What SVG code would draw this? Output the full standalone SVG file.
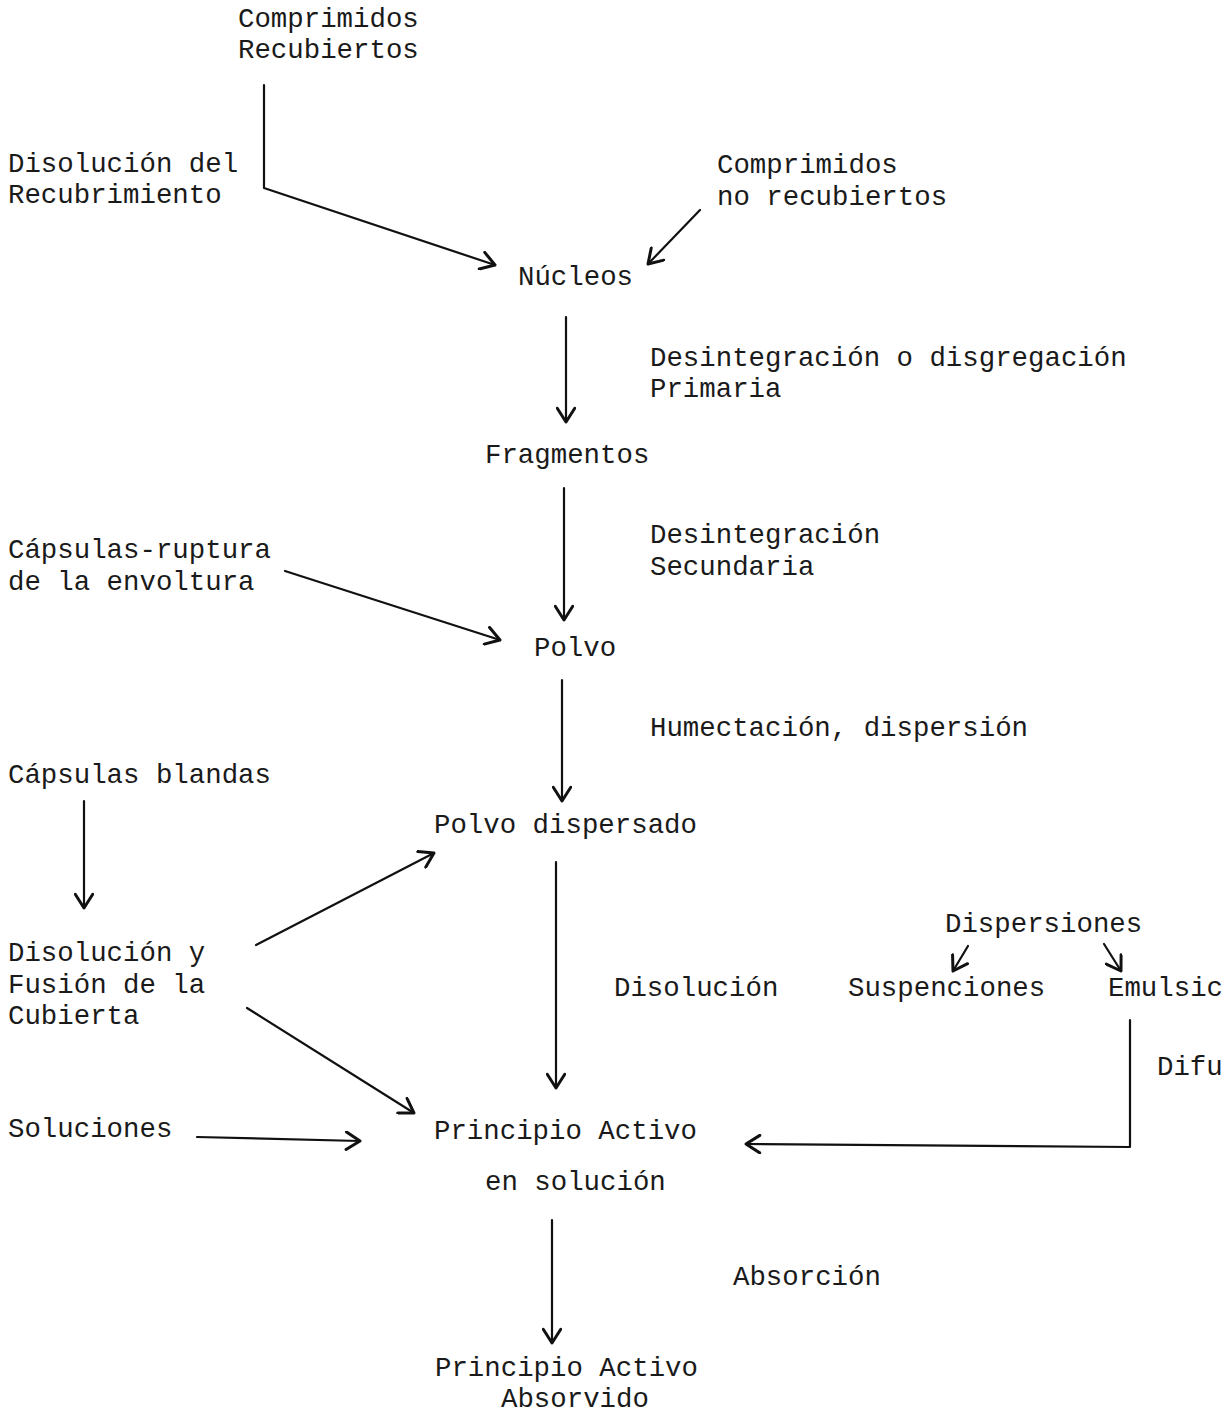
<svg xmlns="http://www.w3.org/2000/svg" width="1224" height="1416" viewBox="0 0 1224 1416">
  <style>
    text { font-family: "Liberation Mono", "Courier New", monospace; font-size: 27.4px; fill: #1a1a1a; }
    .c { fill: none; stroke: #111; stroke-width: 2.2; stroke-linecap: round; stroke-linejoin: round; }
  </style>
  <defs>
    <marker id="ah" markerUnits="userSpaceOnUse" markerWidth="20" markerHeight="20" refX="13" refY="8" orient="auto" viewBox="0 0 16 16">
      <path d="M2,1 L13,8 L2,15" fill="none" stroke="#111" stroke-width="2.4" stroke-linecap="round" stroke-linejoin="round"/>
    </marker>
  </defs>
  <rect width="1224" height="1416" fill="#fff"/>

  <g id="connectors">
    <path class="c" d="M264,85 L264,188 L495,265" marker-end="url(#ah)"/>
    <path class="c" d="M700,210 L648,264" marker-end="url(#ah)"/>
    <path class="c" d="M566,317 L566,422" marker-end="url(#ah)"/>
    <path class="c" d="M564,488 L564,620" marker-end="url(#ah)"/>
    <path class="c" d="M285,571 L500,640" marker-end="url(#ah)"/>
    <path class="c" d="M562,680 L562,801" marker-end="url(#ah)"/>
    <path class="c" d="M84,801 L84,908" marker-end="url(#ah)"/>
    <path class="c" d="M256,945 L434,853" marker-end="url(#ah)"/>
    <path class="c" d="M556,862 L556,1088" marker-end="url(#ah)"/>
    <path class="c" d="M247,1008 L414,1113" marker-end="url(#ah)"/>
    <path class="c" d="M197,1137 L360,1141" marker-end="url(#ah)"/>
    <path class="c" d="M1130,1020 L1130,1147 L746,1144" marker-end="url(#ah)"/>
    <path class="c" d="M968,946 L953,971" marker-end="url(#ah)"/>
    <path class="c" d="M1104,944 L1121,971" marker-end="url(#ah)"/>
    <path class="c" d="M552,1220 L552,1343" marker-end="url(#ah)"/>
  </g>

  <g id="comprimidos-recubiertos"><text x="238" y="27">Comprimidos</text><text x="238" y="58">Recubiertos</text></g>
  <g id="disolucion-recubrimiento"><text x="8" y="172">Disolución del</text><text x="8" y="203">Recubrimiento</text></g>
  <g id="comprimidos-no-recubiertos"><text x="717" y="173">Comprimidos</text><text x="717" y="205">no recubiertos</text></g>
  <g id="nucleos"><text x="518" y="285">Núcleos</text></g>
  <g id="desintegracion-primaria"><text x="650" y="366">Desintegración o disgregación</text><text x="650" y="397">Primaria</text></g>
  <g id="fragmentos"><text x="485" y="463">Fragmentos</text></g>
  <g id="desintegracion-secundaria"><text x="650" y="543">Desintegración</text><text x="650" y="575">Secundaria</text></g>
  <g id="capsulas-ruptura"><text x="8" y="558">Cápsulas-ruptura</text><text x="8" y="590">de la envoltura</text></g>
  <g id="polvo"><text x="534" y="656">Polvo</text></g>
  <g id="humectacion"><text x="650" y="736">Humectación, dispersión</text></g>
  <g id="capsulas-blandas"><text x="8" y="783">Cápsulas blandas</text></g>
  <g id="polvo-dispersado"><text x="434" y="833">Polvo dispersado</text></g>
  <g id="dispersiones"><text x="945" y="932">Dispersiones</text></g>
  <g id="disolucion-fusion"><text x="8" y="961">Disolución y</text><text x="8" y="993">Fusión de la</text><text x="8" y="1024">Cubierta</text></g>
  <g id="disolucion"><text x="614" y="996">Disolución</text></g>
  <g id="suspenciones"><text x="848" y="996">Suspenciones</text></g>
  <g id="emulsiones"><text x="1108" y="996">Emulsic</text></g>
  <g id="difusion"><text x="1157" y="1075">Difu</text></g>
  <g id="soluciones"><text x="8" y="1137">Soluciones</text></g>
  <g id="principio-activo-solucion"><text x="434" y="1139">Principio Activo</text><text x="485" y="1190">en solución</text></g>
  <g id="absorcion"><text x="733" y="1285">Absorción</text></g>
  <g id="principio-activo-absorvido"><text x="435" y="1376">Principio Activo</text><text x="501" y="1407">Absorvido</text></g>
</svg>
